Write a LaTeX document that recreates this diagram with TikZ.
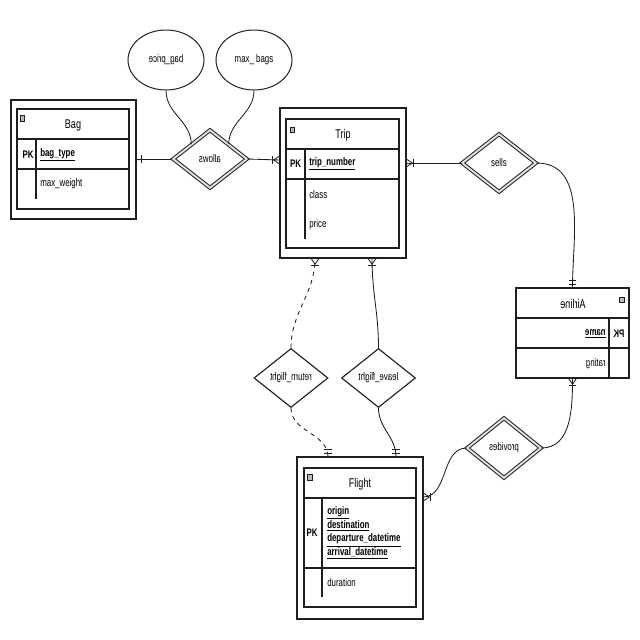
\documentclass[tikz,border=0pt]{standalone}
\usepackage{fontspec}
\setmainfont{Liberation Sans}[FakeStretch=0.72]
\usepackage{graphicx}
\usetikzlibrary{shapes.geometric,fit,calc}
\definecolor{ink}{HTML}{1E1E1E}
\tikzset{
 box/.style={draw=ink, line width=0.75pt, inner sep=0pt, outer sep=0pt},
 tline/.style={draw=ink, line width=0.9pt},
 rel/.style={diamond, draw=ink, line width=0.8pt, inner sep=0pt, minimum width=1.85cm, minimum height=1.45cm, fill=white, font=\fontsize{7.8pt}{9pt}\selectfont},
 relw/.style={rel, double=gray!25, double distance=1.4pt, line width=0.7pt},
 attr/.style={ellipse, draw=ink, line width=0.7pt, minimum width=1.9cm, minimum height=1.5cm, inner sep=0pt, fill=white, font=\fontsize{7.8pt}{9pt}\selectfont},
 conn/.style={draw=ink, line width=0.6pt},
 txt/.style={inner sep=0pt, font=\fontsize{7.8pt}{9pt}\selectfont},
 ttl/.style={inner sep=0pt, font=\fontsize{9pt}{10pt}\selectfont},
 icon/.style={fill=gray!55, draw=ink, line width=0.35pt},
 pics/one/.style={code={\draw[ink, line width=0.7pt] (4pt,-2.8pt) -- (4pt,2.8pt);}},
 pics/mandone/.style={code={\draw[ink, line width=0.7pt] (2.5pt,-2.8pt) -- (2.5pt,2.8pt) (5pt,-2.8pt) -- (5pt,2.8pt);}},
 pics/crowone/.style={code={\draw[ink, line width=0.6pt] (0pt,-3pt) -- (4.5pt,0pt) -- (0pt,3pt); \draw[ink, line width=0.7pt] (5.5pt,-2.8pt) -- (5.5pt,2.8pt);}}
}
\begin{document}
\begin{tikzpicture}[x=0.025cm,y=0.025cm]
\useasboundingbox[fill=white] (0,0) rectangle (640,-640);

% ---------- Bag ----------
\coordinate (bagA) at (11,-100); \coordinate (bagB) at (136,-219);
\node[box, fit=(bagA)(bagB)] (bagout) {};
\draw[tline] (17,-109) rectangle (129,-209);
\draw[tline] (17,-139) -- (129,-139) (17,-169) -- (129,-169) (36,-139) -- (36,-199);
\draw[icon] (20,-115) rectangle (24,-121);
\node[ttl] (bagt) at (73,-125) {Bag};
\node[txt] (bagpk) at (28,-155) {\textbf{PK}};
\node[txt, anchor=west] (bagk) at (40,-155) {\textbf{\underline{bag\_type}}};
\node[txt, anchor=west] (bagw) at (40,-184) {max\_weight};

% ---------- Trip ----------
\coordinate (tripA) at (280,-108); \coordinate (tripB) at (406,-258);
\node[box, fit=(tripA)(tripB)] (tripout) {};
\draw[tline] (286,-119) rectangle (399,-248);
\draw[tline] (286,-149) -- (399,-149) (286,-179) -- (399,-179) (305,-149) -- (305,-239);
\draw[icon] (290,-127) rectangle (294,-132);
\node[ttl] (tript) at (343,-135) {Trip};
\node[txt] (trippk) at (295.5,-164) {\textbf{PK}};
\node[txt, anchor=west] (tripk) at (309,-164) {\textbf{\underline{trip\_number}}};
\node[txt, anchor=west] (tripc) at (309,-195) {class};
\node[txt, anchor=west] (tripp) at (309,-225) {price};

% ---------- Airline (mirrored) ----------
\coordinate (airA) at (516,-288); \coordinate (airB) at (629,-378);
\node[box, line width=0.9pt, fit=(airA)(airB)] (airline) {};
\draw[tline] (516,-318) -- (629,-318) (516,-348) -- (629,-348) (609,-318) -- (609,-378);
\draw[icon] (619.5,-297) rectangle (624.5,-302);
\node[ttl] (airt) at (573,-304) {\reflectbox{Airline}};
\node[txt] (airpk) at (619,-334) {\reflectbox{\textbf{PK}}};
\node[txt, anchor=east] (airn) at (606,-334) {\reflectbox{\textbf{\underline{name}}}};
\node[txt, anchor=east] (airr) at (606,-364) {\reflectbox{rating}};

% ---------- Flight ----------
\coordinate (flA) at (297,-457); \coordinate (flB) at (423,-619);
\node[box, fit=(flA)(flB)] (flightout) {};
\draw[tline] (304,-468) rectangle (416,-607);
\draw[tline] (304,-498) -- (416,-498) (304,-568) -- (416,-568) (322,-498) -- (322,-597);
\draw[icon] (307,-474) rectangle (312,-480);
\node[ttl] (flt) at (360,-484) {Flight};
\node[txt] (flpk) at (312,-533) {\textbf{PK}};
\node[txt, anchor=west, align=left, font=\fontsize{7.8pt}{9.7pt}\selectfont] (flk) at (327,-533)
  {\textbf{\underline{origin}}\\\textbf{\underline{destination}}\\\textbf{\underline{departure\_datetime}}\\\textbf{\underline{arrival\_datetime}}};
\node[txt, anchor=west] (fld) at (327,-583) {duration};

% ---------- attributes ----------
\node[attr] (bp) at (166,-60) {\reflectbox{bag\_price}};
\node[attr] (mb) at (254,-60) {max\_ bags};

% ---------- connector end points ----------
\coordinate (tl) at (tripout.west |- 0,-160);
\coordinate (tr) at (tripout.east |- 0,-163);
\coordinate (tb1) at ($(tripout.south west)+(35,0)$);
\coordinate (tb2) at ($(tripout.south west)+(92,0)$);
\coordinate (ft1) at ($(flightout.north west)+(31,0)$);
\coordinate (ft2) at ($(flightout.north west)+(99,0)$);
\coordinate (fr) at ($(flightout.north east)+(0,-40)$);

% ---------- relationships ----------
\node[relw] (allows) at (210,-159) {\reflectbox{allows}};
\node[relw] (sells) at (499,-163) {sells};
\node[relw, minimum height=1.5cm] (provides) at (504,-448) {\reflectbox{provides}};
\node[rel, minimum height=1.475cm] (ret) at (291,-378) {\reflectbox{return\_flight}};
\node[rel, minimum height=1.475cm] (leave) at (378.5,-378) {\reflectbox{leave\_flight}};

\draw[conn] (bp.south) to[out=-90,in=90] (allows.north west);
\draw[conn] (mb.south) to[out=-90,in=90] (allows.north east);
\draw[conn] (allows.west) -- (allows.west -| bagout.east);
\pic at (allows.west -| bagout.east) {one};
\draw[conn] (allows.east) -- (tl);
\pic[rotate=180] at (tl) {crowone};
\draw[conn] (sells.west) -- (tr);
\pic at (tr) {crowone};
\draw[conn] (sells.east) to[out=0,in=90] (airline.north);
\pic[rotate=90] at (airline.north) {mandone};
\draw[conn] (provides.east) to[out=0,in=-90] (airline.south);
\pic[rotate=-90] at (airline.south) {crowone};
\draw[conn] (provides.west) to[out=180,in=0] (fr);
\pic at (fr) {crowone};
\draw[conn, dashed] (ret.north) to[out=90,in=-90] (tb1);
\pic[rotate=-90] at (tb1) {crowone};
\draw[conn, dashed] (ret.south) to[out=-90,in=90] (ft1);
\pic[rotate=90] at (ft1) {mandone};
\draw[conn] (leave.north) to[out=90,in=-90] (tb2);
\pic[rotate=-90] at (tb2) {crowone};
\draw[conn] (leave.south) to[out=-90,in=90] (ft2);
\pic[rotate=90] at (ft2) {mandone};
\end{tikzpicture}
\end{document}
